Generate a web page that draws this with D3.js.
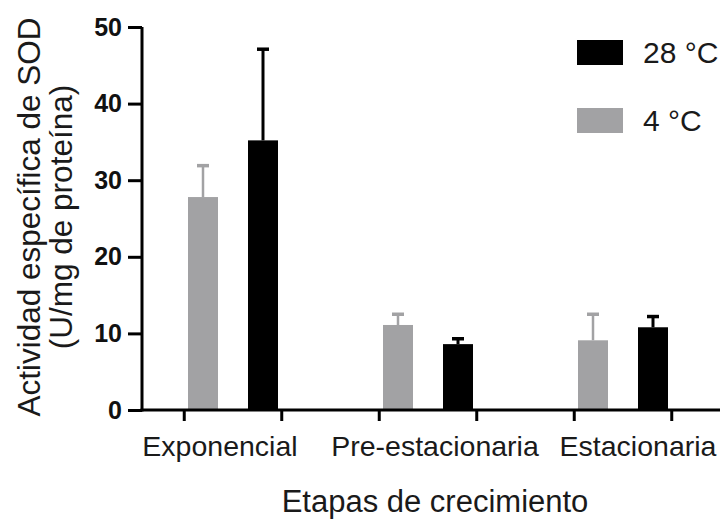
<!DOCTYPE html>
<html>
<head>
<meta charset="utf-8">
<script src="https://cdn.jsdelivr.net/npm/d3@7"></script>
<style>
  html, body { margin: 0; padding: 0; background: #fff; }
  svg { display: block; font-family: "Liberation Sans", Arial, sans-serif; }
</style>
</head>
<body>
<svg id="chart" width="726" height="520"></svg>
<script>
// Growth stages and SOD specific activity (U/mg protein), mean and mean + SD
const categories = ["Exponencial", "Pre-estacionaria", "Estacionaria"];
const seriesNames = ["4 °C", "28 °C"];
const values4C = [27.8, 11.1, 9.1];
const errTop4C = [31.9, 12.5, 12.5];
const values28C = [35.2, 8.6, 10.8];
const errTop28C = [47.1, 9.3, 12.2];
const yTicks = [0, 10, 20, 30, 40, 50];
const legendOrder = ["28 °C", "4 °C"];

const colors = { "4 °C": "#a2a2a4", "28 °C": "#000000" };

const rows = categories.map((c, i) => ({
  category: c,
  bars: [
    { series: "4 °C", value: values4C[i], top: errTop4C[i] },
    { series: "28 °C", value: values28C[i], top: errTop28C[i] }
  ]
}));

const svg = d3.select("#chart");

const plot = { left: 142, right: 720, top: 27, bottom: 410 };

const y = d3.scaleLinear().domain([0, 50]).range([plot.bottom, plot.top]);
const x = d3.scaleBand().domain(categories).range([135.5, 135.5 + 3 * 195]);
const xSub = d3.scaleBand().domain(seriesNames).range([-45, 45]).paddingInner(0.5);

// Bars
const groups = svg.append("g").selectAll("g")
  .data(rows).join("g")
  .attr("transform", d => `translate(${x(d.category) + x.bandwidth() / 2},0)`);

groups.selectAll("rect")
  .data(d => d.bars).join("rect")
  .attr("x", d => xSub(d.series))
  .attr("width", xSub.bandwidth())
  .attr("y", d => y(d.value))
  .attr("height", d => y(0) - y(d.value))
  .attr("fill", d => colors[d.series]);

// Error bars (upper only)
const err = groups.selectAll("g.err")
  .data(d => d.bars).join("g")
  .attr("class", "err")
  .attr("stroke", d => colors[d.series]);

err.append("line")
  .attr("x1", d => xSub(d.series) + xSub.bandwidth() / 2)
  .attr("x2", d => xSub(d.series) + xSub.bandwidth() / 2)
  .attr("y1", d => y(d.value))
  .attr("y2", d => y(d.top))
  .attr("stroke-width", d => d.series === "28 °C" ? 3 : 2.5);

err.append("line")
  .attr("x1", d => xSub(d.series) + xSub.bandwidth() / 2 - 6)
  .attr("x2", d => xSub(d.series) + xSub.bandwidth() / 2 + 6)
  .attr("y1", d => y(d.top))
  .attr("y2", d => y(d.top))
  .attr("stroke-width", 3.5);

// Y axis
const yAxis = svg.append("g")
  .attr("transform", `translate(${plot.left},0)`)
  .call(d3.axisLeft(y).tickValues(yTicks).tickSize(14).tickPadding(6).tickFormat(d3.format("d")));
yAxis.select(".domain").attr("d", `M0,${y(50)}V${y(0) + 1.5}`).attr("stroke-width", 3);
yAxis.selectAll(".tick line").attr("stroke-width", 3);
yAxis.selectAll(".tick text")
  .attr("font-size", 25).attr("font-weight", "bold")
  .attr("font-family", "'Liberation Sans', Arial, sans-serif")
  .attr("fill", "#111");

// X axis baseline with two ticks per group
const xAxis = svg.append("g");
xAxis.append("line")
  .attr("x1", plot.left - 1.5).attr("x2", plot.right)
  .attr("y1", y(0)).attr("y2", y(0))
  .attr("stroke", "#000").attr("stroke-width", 3);

const tickPos = categories.flatMap(c => [x(c) + x.bandwidth() / 4, x(c) + 3 * x.bandwidth() / 4]);
xAxis.selectAll("line.tk")
  .data(tickPos).join("line")
  .attr("class", "tk")
  .attr("x1", d => d).attr("x2", d => d)
  .attr("y1", y(0)).attr("y2", y(0) + 11)
  .attr("stroke", "#000").attr("stroke-width", 3);

// Category labels
const labelNudge = [-13, 7, 15];
xAxis.selectAll("text.cat")
  .data(categories).join("text")
  .attr("class", "cat")
  .attr("x", (d, i) => x(d) + x.bandwidth() / 2 + labelNudge[i])
  .attr("y", 456)
  .attr("text-anchor", "middle")
  .attr("font-size", 28.5)
  .attr("fill", "#1a1a1a")
  .text(d => d);

// Axis titles
svg.append("text")
  .attr("x", 435).attr("y", 512)
  .attr("text-anchor", "middle")
  .attr("font-size", 31)
  .attr("fill", "#1a1a1a")
  .text("Etapas de crecimiento");

const yTitle = svg.append("text")
  .attr("transform", "translate(0,217) rotate(-90)")
  .attr("text-anchor", "middle")
  .attr("font-size", 31.5)
  .attr("fill", "#1a1a1a");
yTitle.append("tspan").attr("x", 0).attr("y", 40).text("Actividad específica de SOD");
yTitle.append("tspan").attr("x", 0).attr("y", 72).text("(U/mg de proteína)");

// Legend
const legend = svg.append("g").selectAll("g")
  .data(legendOrder).join("g")
  .attr("transform", (d, i) => `translate(577,${40 + i * 68})`);
legend.append("rect")
  .attr("width", 46).attr("height", 25)
  .attr("fill", d => colors[d]);
legend.append("text")
  .attr("x", 66).attr("y", 23)
  .attr("font-size", 30)
  .attr("fill", "#1a1a1a")
  .text(d => d);
</script>
</body>
</html>
